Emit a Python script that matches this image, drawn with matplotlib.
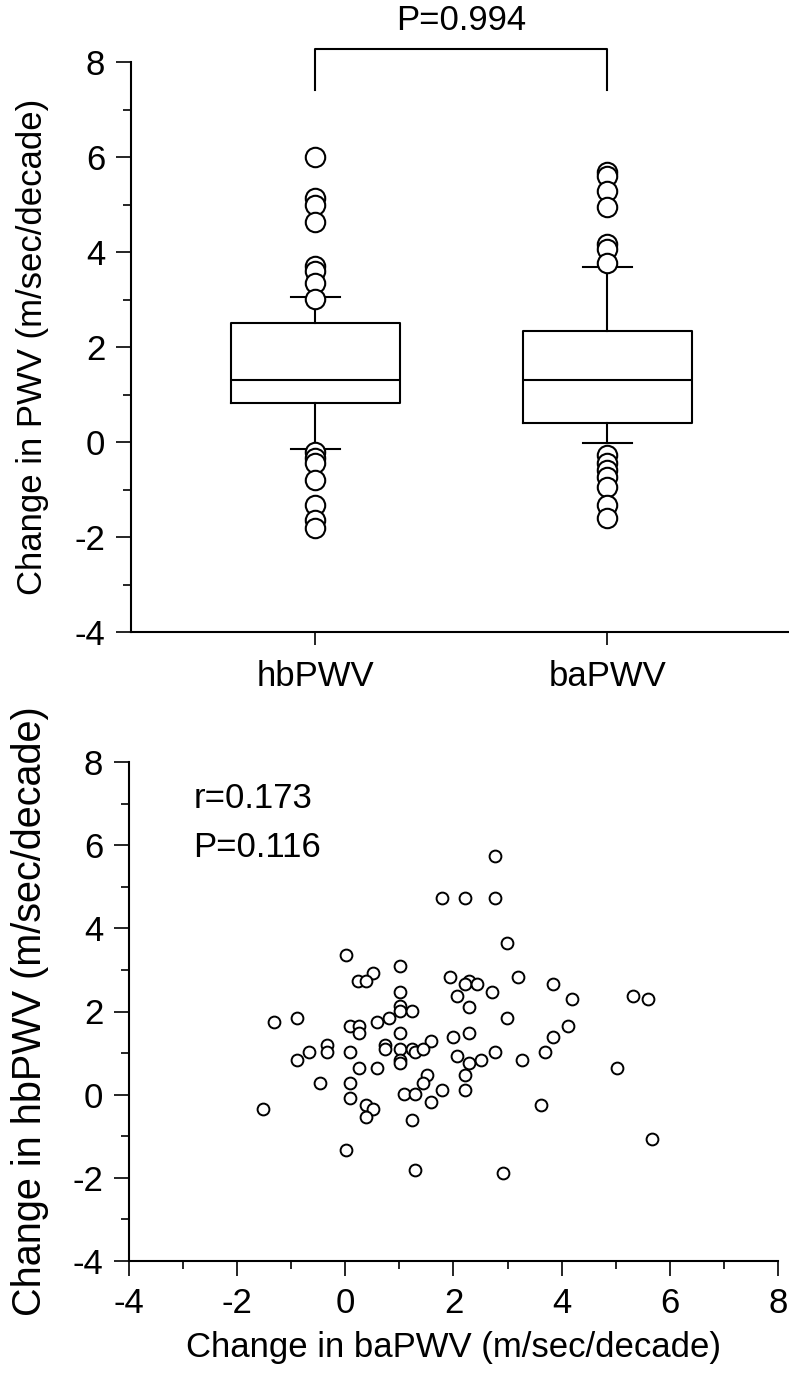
import matplotlib
matplotlib.use('Agg')
import matplotlib.pyplot as plt
from matplotlib.ticker import MultipleLocator

plt.rcParams['font.family'] = ['Liberation Sans', 'DejaVu Sans']
plt.rcParams['axes.unicode_minus'] = False
FS = 25

# ---------------- data ----------------
categories = ['hbPWV', 'baPWV']
q1_vals = [0.82, 0.41]
median_vals = [1.31, 1.31]
q3_vals = [2.51, 2.33]
whisker_low = [-0.15, -0.02]
whisker_high = [3.05, 3.69]
fliers_hb = [6.00, 5.13, 4.99, 4.64, 3.71, 3.59, 3.35, 3.02,
             -0.20, -0.34, -0.44, -0.79, -1.33, -1.64, -1.80]
fliers_ba = [5.69, 5.59, 5.28, 4.94, 4.17, 4.06, 3.76,
             -0.27, -0.45, -0.59, -0.73, -0.94, -1.33, -1.59]
p_box = 'P=0.994'

ba_change = [2.77, 1.79, 2.22, 2.77, 2.99, 0.02, 1.02, 0.52, 0.23, 0.38,
             1.93, 3.20, 2.29, 2.22, 2.43, 1.02, 2.71, 2.07, 2.29, 1.02,
             1.02, 1.23, 2.99, -1.31, -0.89, 0.81, 0.59, 0.09, 0.25, 0.25,
             1.02, 2.00, 2.29, 1.58, -0.33, -0.33, -0.68, -0.89, 0.09, 0.74,
             0.74, 1.02, 1.23, 1.29, 1.44, 1.02, 1.02, 2.07, 2.29, 2.50,
             2.77, 3.27, 0.25, 0.59, -0.47, 0.09, 1.51, 1.44, 2.22, 1.79,
             2.22, 1.08, 1.29, 0.09, 1.58, -1.53, 0.38, 0.52, 0.38, 1.23,
             0.02, 1.28, 2.92, 3.84, 4.19, 5.32, 5.60, 4.11, 3.84, 3.70,
             5.03, 3.62, 5.67]
hb_change = [5.75, 4.74, 4.74, 4.74, 3.65, 3.37, 3.10, 2.92, 2.74, 2.74,
             2.84, 2.84, 2.74, 2.65, 2.65, 2.47, 2.47, 2.38, 2.11, 2.13,
             2.01, 2.01, 1.84, 1.74, 1.84, 1.84, 1.74, 1.65, 1.65, 1.48,
             1.48, 1.38, 1.48, 1.29, 1.20, 1.02, 1.02, 0.83, 1.02, 1.20,
             1.11, 1.11, 1.11, 1.02, 1.11, 0.83, 0.75, 0.92, 0.75, 0.83,
             1.02, 0.83, 0.65, 0.65, 0.29, 0.29, 0.47, 0.29, 0.47, 0.11,
             0.11, 0.02, 0.02, -0.07, -0.17, -0.34, -0.26, -0.34, -0.53, -0.62,
             -1.33, -1.82, -1.89, 2.65, 2.29, 2.38, 2.29, 1.65, 1.38, 1.02,
             0.65, -0.26, -1.07]
r_text = 'r=0.173'
p_text = 'P=0.116'

# ---------------- figure ----------------
W, H = 789, 1379
fig = plt.figure(figsize=(W / 100, H / 100), dpi=100)
ax1 = fig.add_axes([131 / W, 1 - 632 / H, 658 / W, 570 / H])
ax2 = fig.add_axes([129 / W, 1 - 1261 / H, 649 / W, 499 / H])

LW = 1.5

# ---- top: box plot ----
stats = []
fl = [fliers_hb, fliers_ba]
for i, c in enumerate(categories):
    stats.append(dict(label=c, med=median_vals[i], q1=q1_vals[i], q3=q3_vals[i],
                      whislo=whisker_low[i], whishi=whisker_high[i], fliers=fl[i]))
ax1.bxp(stats, positions=[1, 2], widths=0.577, capwidths=0.168, showfliers=True,
        boxprops=dict(color='k', lw=LW), medianprops=dict(color='k', lw=LW),
        whiskerprops=dict(color='k', lw=LW), capprops=dict(color='k', lw=LW),
        flierprops=dict(marker='o', markersize=14, markerfacecolor='white',
                        markeredgecolor='k', markeredgewidth=1.5, linestyle='none'))
ax1.set_xlim(0.368, 2.622)
ax1.set_ylim(-4, 8)
ax1.set_xticks([1, 2])
ax1.set_xticklabels(categories)
ax1.yaxis.set_major_locator(MultipleLocator(2))
ax1.yaxis.set_minor_locator(MultipleLocator(1))
ax1.plot([1, 1, 2, 2], [7.41, 8.27, 8.27, 7.41], color='k', lw=LW, clip_on=False)
ax1.text(1.5, 8.87, p_box, ha='center', va='center', fontsize=FS, clip_on=False)
ax1.set_ylabel('Change in PWV (m/sec/decade)', fontsize=FS, labelpad=18)

# ---- bottom: scatter ----
ax2.plot(ba_change, hb_change, linestyle='none', marker='o', markersize=8.5,
         markerfacecolor='white', markeredgecolor='k', markeredgewidth=1.4,
         clip_on=False)
ax2.set_xlim(-4, 8)
ax2.set_ylim(-4, 8)
for a in (ax2.xaxis, ax2.yaxis):
    a.set_major_locator(MultipleLocator(2))
    a.set_minor_locator(MultipleLocator(1))
ax2.text(-2.81, 7.13, r_text, ha='left', va='center', fontsize=FS)
ax2.text(-2.81, 5.95, p_text, ha='left', va='center', fontsize=FS)
ax2.set_xlabel('Change in baPWV (m/sec/decade)', fontsize=FS, labelpad=8)
ax2.set_ylabel('Change in hbPWV (m/sec/decade)', fontsize=28.5, labelpad=17)

for ax in (ax1, ax2):
    ax.spines['top'].set_visible(False)
    ax.spines['right'].set_visible(False)
    ax.spines['left'].set_linewidth(LW)
    ax.spines['bottom'].set_linewidth(LW)
    ax.tick_params(which='major', direction='out', length=10.5, width=1.2,
                   labelsize=FS, pad=8)
    ax.tick_params(which='minor', direction='out', length=5.5, width=1.2)
ax1.tick_params(axis='x', which='both', length=9, pad=11)
ax1.tick_params(axis='x', which='minor', bottom=False)

fig.savefig('out.png', dpi=100)
